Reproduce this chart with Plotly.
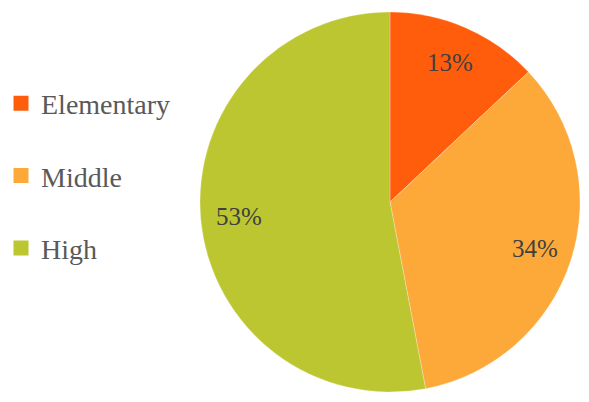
import math
import plotly.graph_objects as go

categories = ["Elementary", "Middle", "High"]
values = [13, 34, 53]
colors = ["#FF5D0C", "#FDA93A", "#BCC631"]

W, H = 589, 402
SERIF = "Liberation Serif, Times New Roman, serif"
dom_x = [200 / W, 580 / W]
dom_y = [10 / H, 390 / H]

fig = go.Figure()
fig.add_trace(go.Pie(
    labels=categories, values=values, sort=False, direction="clockwise",
    rotation=0, marker=dict(colors=colors, line=dict(color="rgba(255,255,255,0.5)", width=0.5)),
    textinfo="none", hoverinfo="label+percent", showlegend=False,
    domain=dict(x=dom_x, y=dom_y),
))

# percentage labels computed from data
total = sum(values)
cx = (dom_x[0] + dom_x[1]) / 2 * W
cy = (dom_y[0] + dom_y[1]) / 2 * H
R = (dom_x[1] - dom_x[0]) * W / 2
cum = 0
for cat, v in zip(categories, values):
    mid = (cum + v / 2) / total * 2 * math.pi
    cum += v
    r = 0.8 * R
    px = cx + r * math.sin(mid)
    py = cy + r * math.cos(mid)
    fig.add_annotation(x=px / W, y=py / H, xref="paper", yref="paper",
                       xanchor="center", yanchor="middle",
                       text=f"{round(v / total * 100)}%", showarrow=False,
                       font=dict(family=SERIF, size=25, color="#404040"))

# legend entries
for cat, col in zip(categories, colors):
    fig.add_trace(go.Scatter(x=[None], y=[None], mode="markers", name=cat,
                             legendgroup=cat,
                             marker=dict(symbol="square", size=15, color=col)))

fig.update_layout(
    width=W, height=H, margin=dict(l=0, r=0, t=0, b=0),
    paper_bgcolor="white", plot_bgcolor="white",
    xaxis=dict(visible=False), yaxis=dict(visible=False),
    legend=dict(x=1 / W, y=(H - 176) / H, xanchor="left", yanchor="middle",
                font=dict(family=SERIF, size=28, color="#595959"),
                tracegroupgap=33, itemwidth=30),
)
fig.write_html("out.html")
